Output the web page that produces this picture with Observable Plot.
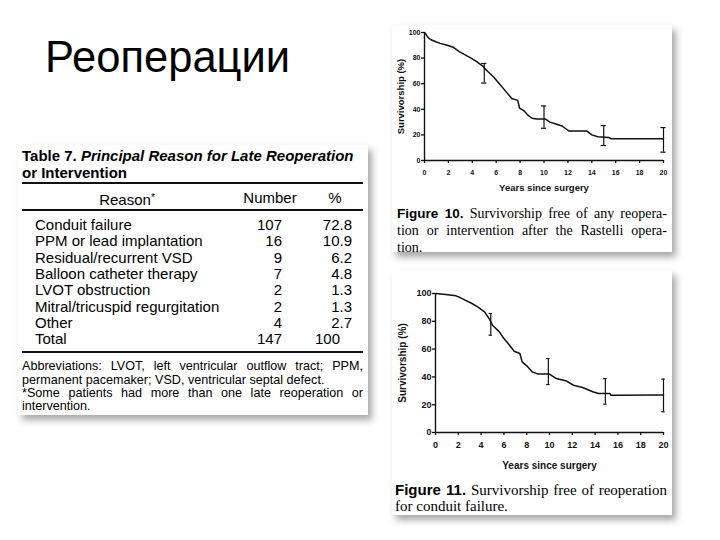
<!DOCTYPE html>
<html>
<head>
<meta charset="utf-8">
<script src="https://cdn.jsdelivr.net/npm/d3@7"></script>
<script src="https://cdn.jsdelivr.net/npm/@observablehq/plot@0.6"></script>
<style>
  html, body { margin: 0; padding: 0; background: #fff; }
  body { width: 720px; height: 540px; position: relative; overflow: hidden; font-family: "Liberation Sans", Arial, sans-serif; color: #000; }
  .abs { position: absolute; white-space: nowrap; }
  .card { position: absolute; background: #fff; box-shadow: 4px 5px 7px rgba(0,0,0,0.35); }
  .just { text-align: justify; text-align-last: justify; white-space: normal; }
  .serif { font-family: "Liberation Serif", "DejaVu Serif", serif; }
  .figlab { font-family: "Liberation Sans", Arial, sans-serif; font-weight: bold; }
</style>
</head>
<body>
<script>
// ---------- data ----------
const slideTitle = "Реоперации";

const tableTitle1a = "Table 7. ";
const tableTitle1b = "Principal Reason for Late Reoperation";
const tableTitle2 = "or Intervention";
const tableHeaders = ["Reason", "Number", "%"];
const reasons = ["Conduit failure", "PPM or lead implantation", "Residual/recurrent VSD", "Balloon catheter therapy", "LVOT obstruction", "Mitral/tricuspid regurgitation", "Other", "Total"];
const numbers = [107, 16, 9, 7, 2, 2, 4, 147];
const percents = ["72.8", "10.9", "6.2", "4.8", "1.3", "1.3", "2.7", "100"];
const footnotes = [
  "Abbreviations: LVOT, left ventricular outflow tract; PPM,",
  "permanent pacemaker; VSD, ventricular septal defect.",
  "*Some patients had more than one late reoperation or",
  "intervention."
];

// Figure 10: survivorship free of any reoperation or intervention
const fig10Years = [0, 0.1, 0.3, 0.5, 0.9, 1.3, 1.9, 2.4, 2.9, 3.4, 3.9, 4.4, 4.9, 5.3, 5.8, 6.3, 6.8, 7.3, 7.8, 7.95, 8.3, 8.7, 9.0, 9.4, 10.1, 10.5, 11.0, 11.5, 11.8, 12.1, 13.6, 14.0, 14.5, 15.4, 15.6, 20];
const fig10Surv  = [100, 99, 96, 94.5, 93, 91.5, 90, 88.5, 85, 82.5, 80, 77, 73.5, 69.5, 65, 59.5, 54, 48.5, 47, 41, 39, 35, 33, 32.5, 32.5, 30, 28.5, 27, 25, 23, 23, 20, 18.5, 18, 17, 17];
const fig10ErrYears = [5, 10, 15, 20];
const fig10ErrLow   = [60.5, 25.2, 11.7, 6.5];
const fig10ErrHigh  = [75.8, 42.6, 27.3, 25.7];

// Figure 11: survivorship free of reoperation for conduit failure
const fig11Years = [0, 0.9, 1.8, 2.2, 2.6, 3.2, 3.7, 4.3, 4.7, 5.0, 5.6, 6.0, 6.5, 6.9, 7.4, 7.6, 8.1, 8.5, 9.0, 10.0, 10.6, 11.5, 12.1, 12.9, 13.8, 14.3, 15.3, 15.4, 20];
const fig11Surv  = [100, 99.3, 98.3, 96.9, 95.2, 92.8, 90.4, 86.8, 82, 77.2, 72.4, 67.6, 62.8, 58.5, 56.8, 50.8, 47.2, 43.6, 42, 42, 38.8, 37, 34, 32.4, 29.3, 28, 28, 26.8, 27];
const fig11ErrYears = [4.85, 9.9, 14.9, 20];
const fig11ErrLow   = [70, 34.5, 20.4, 14.9];
const fig11ErrHigh  = [85.6, 53.2, 38.8, 38.4];

const xTicks = [0, 2, 4, 6, 8, 10, 12, 14, 16, 18, 20];
const yTicks = [0, 20, 40, 60, 80, 100];
const xLabel = "Years since surgery";
const yLabel = "Survivorship (%)";

const fig10Caption = [["Figure 10.", " Survivorship free of any reopera-"], [null, "tion or intervention after the Rastelli opera-"], [null, "tion."]];
const fig11Caption = [["Figure 11.", " Survivorship free of reoperation"], [null, "for conduit failure."]];

// ---------- helpers ----------
function el(tag, cls, style, html) {
  const e = document.createElement(tag);
  if (cls) e.className = cls;
  Object.assign(e.style, style || {});
  if (html != null) e.innerHTML = html;
  document.body.appendChild(e);
  return e;
}
function textAt(html, cx, cy, lh, opts = {}) {
  const st = { top: (cy - lh / 2) + "px", lineHeight: lh + "px", fontSize: (opts.size || 14) + "px" };
  if (opts.align === "right") { st.right = (720 - cx) + "px"; st.textAlign = "right"; }
  else if (opts.align === "center") { st.left = (cx - 100) + "px"; st.width = "200px"; st.textAlign = "center"; }
  else st.left = cx + "px";
  if (opts.width) st.width = opts.width + "px";
  Object.assign(st, opts.style || {});
  return el("div", "abs" + (opts.cls ? " " + opts.cls : ""), st, html);
}

// ---------- cards ----------
el("div", "card", { left: "18px", top: "145px", width: "350px", height: "270px" });
el("div", "card", { left: "392px", top: "25px", width: "280px", height: "227px" });
el("div", "card", { left: "392px", top: "270px", width: "280px", height: "245px" });

// ---------- slide title ----------
el("div", "abs", { left: "45px", top: "36px", fontSize: "43.5px", lineHeight: "43.5px", color: "#000" }, slideTitle);

// ---------- table ----------
textAt("<b>" + tableTitle1a + "<i>" + tableTitle1b + "</i></b>", 22, 155, 17, { size: 15 });
textAt("<b>" + tableTitle2 + "</b>", 22, 172, 17, { size: 15 });
[[183, 2], [210, 1.5], [352, 2]].forEach(([y, h]) => el("div", "abs", { left: "22px", top: (y - h / 2) + "px", width: "341px", height: h + "px", background: "#111" }));
textAt(tableHeaders[0] + "<span style='font-size:10px;vertical-align:4px'>*</span>", 127, 198, 16, { size: 15, align: "center" });
textAt(tableHeaders[1], 270, 198, 16, { size: 15, align: "center" });
textAt(tableHeaders[2], 335, 198, 16, { size: 15, align: "center" });
reasons.forEach((r, i) => {
  const cy = 225 + i * 16.3;
  textAt(r, 35, cy, 16, { size: 15 });
  textAt(String(numbers[i]), 282, cy, 16, { size: 15, align: "right" });
  const p = percents[i];
  textAt(p, p.includes(".") ? 352 : 340, cy, 16, { size: 15, align: "right" });
});
footnotes.forEach((f, i) => {
  const cy = 367 + i * 13.2;
  const justified = (i === 0 || i === 2);
  textAt(f, 22, cy, 13.2, { size: 12.6, width: 341, cls: justified ? "just" : "" });
});

// ---------- survival plots ----------
function survPlot(cfg) {
  const curve = cfg.years.map((t, i) => ({ t, v: cfg.surv[i] }));
  const err = cfg.errYears.map((t, i) => ({ t, lo: cfg.errLow[i], hi: cfg.errHigh[i] }));
  const caps = err.flatMap(d => [{ t: d.t, v: d.lo }, { t: d.t, v: d.hi }]);
  const chart = Plot.plot({
    width: cfg.width, height: cfg.height,
    marginLeft: cfg.ml, marginRight: cfg.mr, marginTop: cfg.mt, marginBottom: cfg.mb,
    x: { domain: [0, 20] },
    y: { domain: [0, 100] },
    style: { fontFamily: "Liberation Sans, Arial, sans-serif", fontWeight: "bold", background: "transparent", overflow: "visible", color: "#111" },
    marks: [
      Plot.axisX({ ticks: xTicks, tickSize: 3, tickPadding: cfg.xPad, fontSize: cfg.tickFont, label: null, strokeWidth: 1.3 }),
      Plot.axisY({ ticks: yTicks, tickSize: 3, tickPadding: 1, fontSize: cfg.tickFont, label: null, strokeWidth: 1.3 }),
      Plot.ruleX([0], { stroke: "#111", strokeWidth: 1.4 }),
      Plot.ruleY([0], { stroke: "#111", strokeWidth: 1.4 }),
      Plot.line(curve, { x: "t", y: "v", stroke: "#111", strokeWidth: 1.5 }),
      Plot.ruleX(err, { x: "t", y1: "lo", y2: "hi", stroke: "#111", strokeWidth: 1.2 }),
      Plot.ruleY(caps, { y: "v", x1: d => d.t - cfg.cap, x2: d => d.t + cfg.cap, stroke: "#111", strokeWidth: 1.2 }),
      Plot.text([xLabel], { frameAnchor: "bottom", dy: cfg.xLabOff, fontSize: cfg.labFont, text: d => d, textAnchor: "middle", lineAnchor: "middle" }),
      Plot.text([yLabel], { frameAnchor: "left", dx: -cfg.yLabOff, rotate: -90, fontSize: cfg.labFont, text: d => d, textAnchor: "middle", lineAnchor: "middle" })
    ]
  });
  chart.style.position = "absolute";
  chart.style.left = cfg.left + "px";
  chart.style.top = cfg.top + "px";
  document.body.appendChild(chart);
}

survPlot({
  years: fig10Years, surv: fig10Surv, errYears: fig10ErrYears, errLow: fig10ErrLow, errHigh: fig10ErrHigh,
  left: 392, top: 25, width: 280, height: 170, ml: 32, mr: 9, mt: 7, mb: 35,
  tickFont: 7, labFont: 9.5, xPad: 7, xLabOff: 27, yLabOff: 24, cap: 0.22
});
survPlot({
  years: fig11Years, surv: fig11Surv, errYears: fig11ErrYears, errLow: fig11ErrLow, errHigh: fig11ErrHigh,
  left: 392, top: 270, width: 280, height: 210, ml: 43, mr: 9, mt: 23, mb: 48,
  tickFont: 9, labFont: 10, xPad: 6, xLabOff: 33, yLabOff: 33, cap: 0.15
});

// ---------- figure captions ----------
function caption(lines, left, width, startY, step, size, labSize) {
  lines.forEach(([lab, txt], i) => {
    const html = (lab ? "<span class='figlab' style='font-size:" + labSize + "px'>" + lab + "</span>" : "") + txt;
    const justified = i < lines.length - 1;
    textAt(html, left, startY + i * step, step, { size, width, cls: "serif" + (justified ? " just" : "") });
  });
}
caption(fig10Caption, 397, 270, 213, 17, 14, 13.5);
caption(fig11Caption, 395, 272, 490, 16, 15, 15);
</script>
</body>
</html>
